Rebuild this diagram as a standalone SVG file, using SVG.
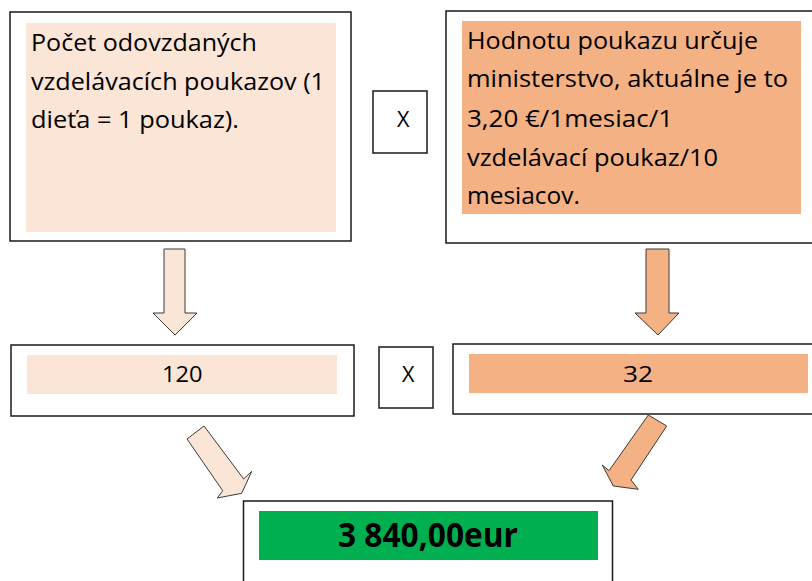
<svg xmlns="http://www.w3.org/2000/svg" width="812" height="581" viewBox="0 0 812 581">
  <style>
    .box { fill: #ffffff; stroke: #1a1a1a; stroke-width: 1.5; }
    .light { fill: #FBE5D6; }
    .dark { fill: #F4B183; }
    .green { fill: #00B050; }
    .t { font-family: "Open Sans", "Noto Sans", "DejaVu Sans", sans-serif; font-size: 24px; fill: #000; }
    .s { font-family: "Open Sans", "Noto Sans", "DejaVu Sans", sans-serif; font-size: 21px; fill: #000; }
    .b { font-family: "Open Sans", "Noto Sans", "DejaVu Sans", sans-serif; font-size: 34px; font-weight: bold; fill: #000; }
    .arr { stroke: #3a3a3a; stroke-width: 1; stroke-linejoin: miter; }
  </style>
  <rect width="812" height="581" fill="#ffffff"/>

  <g id="node-count">
    <rect class="box" x="10" y="12" width="341" height="229"/>
    <rect class="light" x="26" y="23" width="310" height="209"/>
    <text class="t" x="31" y="51" textLength="226" lengthAdjust="spacingAndGlyphs">Počet odovzdaných</text>
    <text class="t" x="31" y="89.5" textLength="294" lengthAdjust="spacingAndGlyphs">vzdelávacích poukazov (1</text>
    <text class="t" x="31" y="128" textLength="208" lengthAdjust="spacingAndGlyphs">dieťa = 1 poukaz).</text>
  </g>

  <g id="node-x1">
    <rect class="box" x="373" y="91" width="54" height="62"/>
    <text class="s" x="397" y="127" textLength="12.5" lengthAdjust="spacingAndGlyphs">X</text>
  </g>

  <g id="node-value">
    <rect class="box" x="446" y="11" width="372" height="232"/>
    <rect class="dark" x="462" y="21" width="339" height="193"/>
    <text class="t" x="467" y="48.5" textLength="291" lengthAdjust="spacingAndGlyphs">Hodnotu poukazu určuje</text>
    <text class="t" x="467" y="87.3" textLength="321" lengthAdjust="spacingAndGlyphs">ministerstvo, aktuálne je to</text>
    <text class="t" x="467" y="126.5" textLength="206" lengthAdjust="spacingAndGlyphs">3,20 €/1mesiac/1</text>
    <text class="t" x="467" y="165.5" textLength="251" lengthAdjust="spacingAndGlyphs">vzdelávací poukaz/10</text>
    <text class="t" x="467" y="203.5" textLength="113" lengthAdjust="spacingAndGlyphs">mesiacov.</text>
  </g>

  <g id="node-120">
    <rect class="box" x="11" y="345" width="343" height="71"/>
    <rect class="light" x="27" y="355" width="310" height="39"/>
    <text class="s" x="162" y="382" textLength="40.5" lengthAdjust="spacingAndGlyphs">120</text>
  </g>

  <g id="node-x2">
    <rect class="box" x="379" y="347" width="54" height="61"/>
    <text class="s" x="402" y="382" textLength="12.5" lengthAdjust="spacingAndGlyphs">X</text>
  </g>

  <g id="node-32">
    <rect class="box" x="453" y="344" width="365" height="70"/>
    <rect class="dark" x="469" y="354" width="339" height="39"/>
    <text class="s" x="623" y="382" textLength="30" lengthAdjust="spacingAndGlyphs">32</text>
  </g>

  <g id="node-result">
    <rect class="box" x="243.5" y="501" width="369" height="90"/>
    <rect class="green" x="259" y="511" width="339" height="49"/>
    <text class="b" x="338" y="546.5" textLength="180" lengthAdjust="spacingAndGlyphs">3 840,00eur</text>
  </g>

  <g id="connectors">
    <polygon class="arr light" points="164,249 185,249 185,313 197,313 175,335 153,313 164,313"/>
    <polygon class="arr dark" points="646,249 669,249 669,313 679,313 658,335 635,313 646,313"/>
    <polygon class="arr light" points="187,439 204,426 243.7,479 251.7,471.3 241.7,493.3 217.3,498 222.7,490.7"/>
    <polygon class="arr dark" points="648.3,415 666.7,426 631,480 638.3,489.3 613.3,486 602.3,465 609,470.7"/>
  </g>
</svg>
